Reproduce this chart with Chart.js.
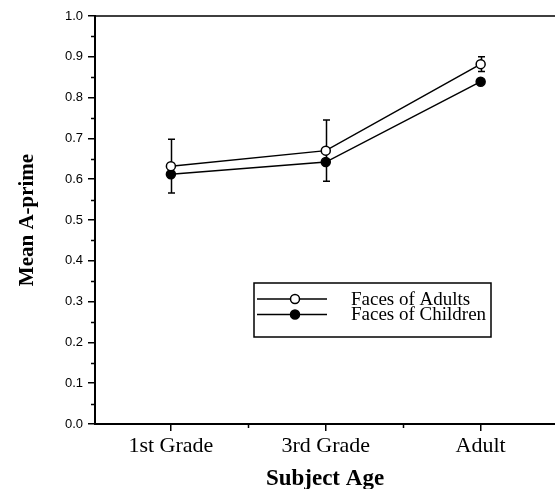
<!DOCTYPE html>
<html>
<head>
<meta charset="utf-8">
<script src="https://cdn.jsdelivr.net/npm/chart.js@4"></script>
<style>
  html, body { margin: 0; padding: 0; background: #fff; overflow: hidden; }
  #wrap { width: 555px; height: 489px; }
</style>
</head>
<body>
<div id="wrap"><canvas id="ageChart" width="555" height="489"></canvas></div>
<script>
// Mean A-prime by subject age
const categories = ['1st Grade', '3rd Grade', 'Adult'];
const adultFaces = [0.632, 0.670, 0.882];
const childFaces = [0.612, 0.642, 0.839];
const adultErr = [0.066, 0.075, 0.018];
const seriesNames = ['Faces of Adults', 'Faces of Children'];

const SERIF = '"Liberation Serif", "Times New Roman", serif';
const SANS = '"Liberation Sans", Arial, sans-serif';

// short ticks halfway between the labelled ones
const minorTicks = {
    id: 'minorTicks',
    afterDraw(chart) {
        const ctx = chart.ctx;
        const { x, y } = chart.scales;
        const area = chart.chartArea;
        ctx.save();
        ctx.strokeStyle = '#000';
        ctx.lineWidth = 1.5;
        ctx.beginPath();
        for (let i = 0; i < y.ticks.length - 1; i++) {
            const py = Math.round(y.getPixelForValue((y.ticks[i].value + y.ticks[i + 1].value) / 2)) + 0.5;
            ctx.moveTo(area.left - 4, py);
            ctx.lineTo(area.left, py);
        }
        for (let i = 0; i < x.ticks.length - 1; i++) {
            const px = Math.round(x.getPixelForValue((x.ticks[i].value + x.ticks[i + 1].value) / 2)) + 0.5;
            ctx.moveTo(px, area.bottom);
            ctx.lineTo(px, area.bottom + 4);
        }
        // top frame line
        ctx.moveTo(area.left, area.top);
        ctx.lineTo(area.right, area.top);
        ctx.stroke();
        ctx.restore();
    }
};

// error bars for the adult-faces series
const errorBars = {
    id: 'errorBars',
    beforeDatasetsDraw(chart) {
        const ctx = chart.ctx;
        const { x, y } = chart.scales;
        ctx.save();
        ctx.strokeStyle = '#000';
        ctx.lineWidth = 1.5;
        adultErr.forEach((e, i) => {
            const px = Math.round(x.getPixelForValue(i)) + 0.5;
            const top = y.getPixelForValue(adultFaces[i] + e);
            const bot = y.getPixelForValue(adultFaces[i] - e);
            ctx.beginPath();
            ctx.moveTo(px, top);
            ctx.lineTo(px, bot);
            ctx.moveTo(px - 3.5, top);
            ctx.lineTo(px + 3.5, top);
            ctx.moveTo(px - 3.5, bot);
            ctx.lineTo(px + 3.5, bot);
            ctx.stroke();
        });
        ctx.restore();
    }
};

// boxed legend sitting inside the plot
const legendBox = {
    id: 'legendBox',
    afterDraw(chart) {
        const ctx = chart.ctx;
        const area = chart.chartArea;
        const bx = area.left + 159, by = area.top + 267, bw = 237, bh = 54;
        ctx.save();
        ctx.strokeStyle = '#000';
        ctx.lineWidth = 1.5;
        ctx.strokeRect(bx, by, bw, bh);
        chart.data.datasets.forEach((ds, i) => {
            const ry = by + 16 + i * 15.5;
            ctx.beginPath();
            ctx.moveTo(bx + 3, ry);
            ctx.lineTo(bx + 73, ry);
            ctx.lineWidth = 1.5;
            ctx.stroke();
            ctx.beginPath();
            ctx.arc(bx + 41, ry, ds.pointRadius, 0, Math.PI * 2);
            ctx.fillStyle = ds.pointBackgroundColor;
            ctx.fill();
            ctx.stroke();
            ctx.fillStyle = '#000';
            ctx.font = '19px ' + SERIF;
            ctx.textBaseline = 'middle';
            ctx.fillText(ds.label, bx + 97, ry + 1);
        });
        ctx.restore();
    }
};

const ctx = document.getElementById('ageChart').getContext('2d');
new Chart(ctx, {
    type: 'line',
    data: {
        datasets: [{
            label: seriesNames[0],
            data: adultFaces.map((v, i) => ({ x: i, y: v })),
            borderColor: '#000',
            borderWidth: 1.5,
            pointRadius: 4.5,
            pointBackgroundColor: '#fff',
            pointBorderColor: '#000',
            pointBorderWidth: 1.5
        }, {
            label: seriesNames[1],
            data: childFaces.map((v, i) => ({ x: i, y: v })),
            borderColor: '#000',
            borderWidth: 1.5,
            pointRadius: 4.5,
            pointBackgroundColor: '#000',
            pointBorderColor: '#000',
            pointBorderWidth: 1.5
        }]
    },
    options: {
        responsive: false,
        animation: false,
        devicePixelRatio: 1,
        layout: { autoPadding: false, padding: { top: 16, right: 0, left: 0, bottom: 0 } },
        plugins: {
            legend: { display: false },
            tooltip: { enabled: false }
        },
        scales: {
            x: {
                type: 'linear',
                min: -0.49,
                max: 2.48,
                afterBuildTicks: axis => {
                    axis.ticks = categories.map((c, i) => ({ value: i }));
                },
                afterFit: axis => {
                    axis.height = 65;
                    axis.paddingLeft = 0;
                    axis.paddingRight = 0;
                },
                grid: { drawOnChartArea: false, tickLength: 7, color: '#000', lineWidth: 1.5 },
                border: { color: '#000', width: 2 },
                ticks: {
                    color: '#000',
                    padding: 2,
                    maxRotation: 0,
                    font: { family: SERIF, size: 22 },
                    callback: v => categories[v]
                },
                title: {
                    display: true,
                    text: 'Subject Age',
                    color: '#000',
                    font: { family: SERIF, size: 23, weight: 'bold', lineHeight: 0.9 },
                    padding: { top: 0, bottom: 0 }
                }
            },
            y: {
                min: 0,
                max: 1,
                afterFit: axis => {
                    axis.width = 95;
                    axis.paddingLeft = 0;
                    axis.paddingRight = 0;
                },
                grid: { drawOnChartArea: false, tickLength: 7, color: '#000', lineWidth: 1.5 },
                border: { color: '#000', width: 2 },
                ticks: {
                    stepSize: 0.1,
                    color: '#000',
                    padding: 5,
                    font: { family: SANS, size: 13 },
                    callback: v => v.toFixed(1)
                },
                title: {
                    display: true,
                    text: 'Mean A-prime',
                    color: '#000',
                    font: { family: SERIF, size: 21, weight: 'bold', lineHeight: 1.2 },
                    padding: { top: 15, bottom: 0 }
                }
            }
        }
    },
    plugins: [minorTicks, errorBars, legendBox]
});
</script>
</body>
</html>
